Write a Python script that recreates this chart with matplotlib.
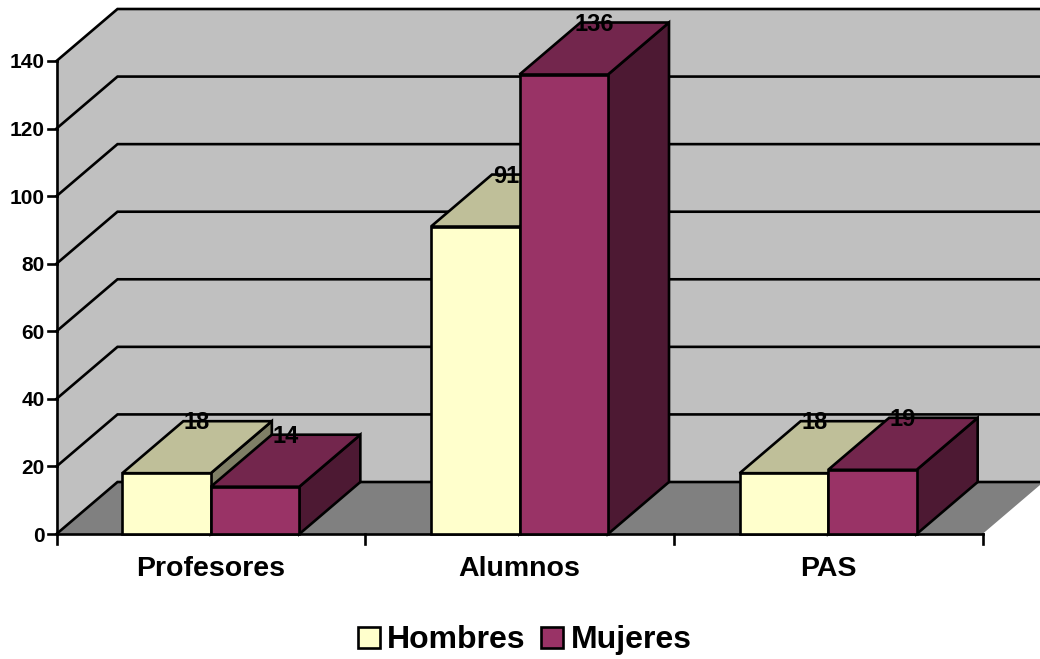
import matplotlib
matplotlib.use("Agg")
import matplotlib.pyplot as plt
from matplotlib.patches import Polygon, Rectangle

categories = ["Profesores", "Alumnos", "PAS"]
hombres = [18, 91, 18]
mujeres = [14, 136, 19]
y_ticks = [0, 20, 40, 60, 80, 100, 120, 140]
series_names = ["Hombres", "Mujeres"]

W, H = 1040, 659
PX0, PY0 = 56.5, 534.0            # pixel of the chart origin
CAT_PX = 926.0 / 3                # pixels per category
VAL_PX = 473.0 / 140              # pixels per value unit
DX = 61.0 / CAT_PX                # depth offset, data units
DY = 52.0 / VAL_PX
BAR_W = 88.5 / CAT_PX
LW = 1.9

plt.rcParams["font.family"] = ["Liberation Sans", "DejaVu Sans"]
plt.rcParams["font.weight"] = "bold"

fig = plt.figure(figsize=(W / 100, H / 100), dpi=100, facecolor="white")
ax = fig.add_axes([0, 0, 1, 1])
ax.set_xlim(-PX0 / CAT_PX, (W - PX0) / CAT_PX)
ax.set_ylim((PY0 - H) / VAL_PX, PY0 / VAL_PX)
ax.axis("off")

n = len(categories)
top = max(y_ticks)


def poly(pts, fc, z, lw=LW, ec="black"):
    ax.add_patch(Polygon(pts, closed=True, facecolor=fc, edgecolor=ec,
                         linewidth=lw, joinstyle="miter", zorder=z))


# walls (one shape, so no seam) and floor
poly([(0, 0), (DX, DY), (n + DX, DY), (n + DX, top + DY), (DX, top + DY), (0, top)],
     "#C0C0C0", 1, lw=0, ec="none")
poly([(0, 0), (n, 0), (n + DX, DY), (DX, DY)], "#808080", 1, lw=0, ec="none")

# gridlines
for t in y_ticks:
    ax.plot([0, DX, n + DX], [t, t + DY, t + DY], color="black", lw=LW, zorder=2,
            solid_joinstyle="miter")
ax.plot([0, 0], [0, top], color="black", lw=LW, zorder=2)

# axes lines and ticks
ax.plot([0, n], [0, 0], color="black", lw=LW, zorder=2)
for i in range(n + 1):
    ax.plot([i, i], [0, -10 / VAL_PX], color="black", lw=LW, zorder=2)
for t in y_ticks:
    ax.plot([-9 / CAT_PX, 0], [t, t], color="black", lw=LW, zorder=2)
    ax.text(-12 / CAT_PX, t, str(t), ha="right", va="center_baseline", fontsize=15, zorder=10)
for i, c in enumerate(categories):
    ax.text(i + 0.5, -32 / VAL_PX, c, ha="center", va="center_baseline",
            fontsize=20.5, zorder=10)


def bar3d(x0, v, front, topc, side, z):
    x1 = x0 + BAR_W
    poly([(x1, 0), (x1 + DX, DY), (x1 + DX, v + DY), (x1, v)], side, z)
    poly([(x0, v), (x1, v), (x1 + DX, v + DY), (x0 + DX, v + DY)], topc, z)
    poly([(x0, 0), (x1, 0), (x1, v), (x0, v)], front, z)


LABEL_UP = 1.0 / VAL_PX
for i in range(n):
    c = i + 0.5
    bar3d(c - BAR_W, hombres[i], "#FFFFCC", "#BFBF99", "#7F7F66", 3 + i * 0.1)
    bar3d(c, mujeres[i], "#993366", "#73264D", "#4D1933", 3.05 + i * 0.1)
    ax.text(c - BAR_W / 2 + DX / 2, hombres[i] + DY + LABEL_UP, str(hombres[i]), ha="center",
            va="center_baseline", fontsize=17, zorder=3.02 + i * 0.1)
    ax.text(c + BAR_W / 2 + DX / 2, mujeres[i] + DY + LABEL_UP, str(mujeres[i]), ha="center",
            va="center_baseline", fontsize=17, zorder=5)

# legend, in figure pixels
legend_x = [358, 541]
legend_text_x = [387, 571]
colors = ["#FFFFCC", "#993366"]
for name, lx, tx, col in zip(series_names, legend_x, legend_text_x, colors):
    fig.add_artist(Rectangle((lx / W, 1 - 648 / H), 22 / W, 21 / H, transform=fig.transFigure,
                             facecolor=col, edgecolor="black", linewidth=LW))
    fig.text(tx / W, 1 - 648 / H, name, ha="left", va="baseline", fontsize=23)

fig.savefig("out.png", dpi=100)
